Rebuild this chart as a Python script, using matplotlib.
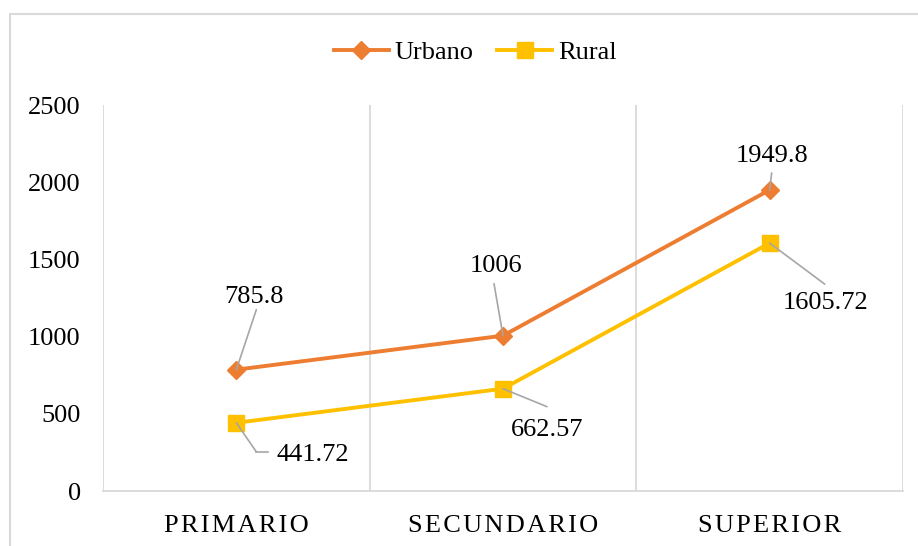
import matplotlib.pyplot as plt
from matplotlib.patches import Rectangle

plt.rcParams['font.family'] = ['Liberation Serif', 'DejaVu Serif']

# Data
categorias = ['PRIMARIO', 'SECUNDARIO', 'SUPERIOR']
urbano = [785.8, 1006, 1949.8]
rural = [441.72, 662.57, 1605.72]

# data label placement, pixels from the point: text centre and leader end
txt_urbano = [(18, 73), (-7, 70), (2, 34)]
lead_urbano = [(20, 60), (-9, 52), (2, 17)]
txt_rural = [(76, -32), (44, -41), (56, -60)]
lead_rural = [(20, -29), (44, -18), (55, -41)]

naranja = '#ED7D31'
amarillo = '#FFC000'
gris = '#D9D9D9'
gris_guia = '#A6A6A6'

fig = plt.figure(figsize=(9.18, 5.46), dpi=100)
ax = fig.add_axes([103 / 918, 1 - 491 / 546, 800 / 918, 386 / 546])

x = range(len(categorias))
ax.plot(x, urbano, color=naranja, lw=2.8, marker='D', ms=9, label='Urbano', zorder=3)
ax.plot(x, rural, color=amarillo, lw=2.8, marker='s', ms=12, label='Rural', zorder=3)

ax.set_xlim(-0.5, 2.5)
ax.set_ylim(0, 2500)
ax.set_yticks(range(0, 2501, 500))
ax.set_xticks(list(x))
ax.set_xticklabels(['\u200a'.join(c) for c in categorias], fontsize=19)
ax.tick_params(axis='y', length=0, labelsize=19, pad=16)
ax.tick_params(axis='x', length=0, pad=17)

# vertical separators between categories
for b in [-0.5, 0.5, 1.5, 2.5]:
    ax.axvline(b, color=gris, lw=1.3, zorder=0)
for s in ['top', 'right', 'left']:
    ax.spines[s].set_visible(False)
ax.spines['bottom'].set_color(gris)
ax.spines['bottom'].set_linewidth(1.3)

leader = dict(arrowstyle='-', color=gris_guia, lw=1.2, shrinkA=0, shrinkB=0)


def etiquetas(valores, txt, lead):
    for i, v in enumerate(valores):
        ax.annotate('', (i, v), xytext=lead[i], textcoords='offset pixels',
                    arrowprops=leader, zorder=4)
        ax.annotate(f'{v:g}', (i, v), xytext=txt[i], textcoords='offset pixels',
                    ha='center', va='center', fontsize=19)


etiquetas(urbano, txt_urbano, lead_urbano)
etiquetas(rural, txt_rural, lead_rural)

# short horizontal tail on the 441.72 leader
p0 = ax.transData.transform((0, rural[0]))
inv = ax.transData.inverted()
a = inv.transform((p0[0] + lead_rural[0][0], p0[1] + lead_rural[0][1]))
b = inv.transform((p0[0] + lead_rural[0][0] + 12, p0[1] + lead_rural[0][1]))
ax.plot([a[0], b[0]], [a[1], b[1]], color=gris_guia, lw=1.2, zorder=4)

fig.legend(loc='center', bbox_to_anchor=(475 / 918, 1 - 52 / 546), ncol=2, frameon=False,
           fontsize=19, handlelength=2.1, handletextpad=0.2, columnspacing=0.9)

# chart border
fig.patches.append(Rectangle((10 / 918, -0.05), 1.0, 1 - 14 / 546 + 0.05,
                             transform=fig.transFigure, fill=False,
                             edgecolor=gris, lw=1.5))

fig.savefig('out.png', dpi=100)
